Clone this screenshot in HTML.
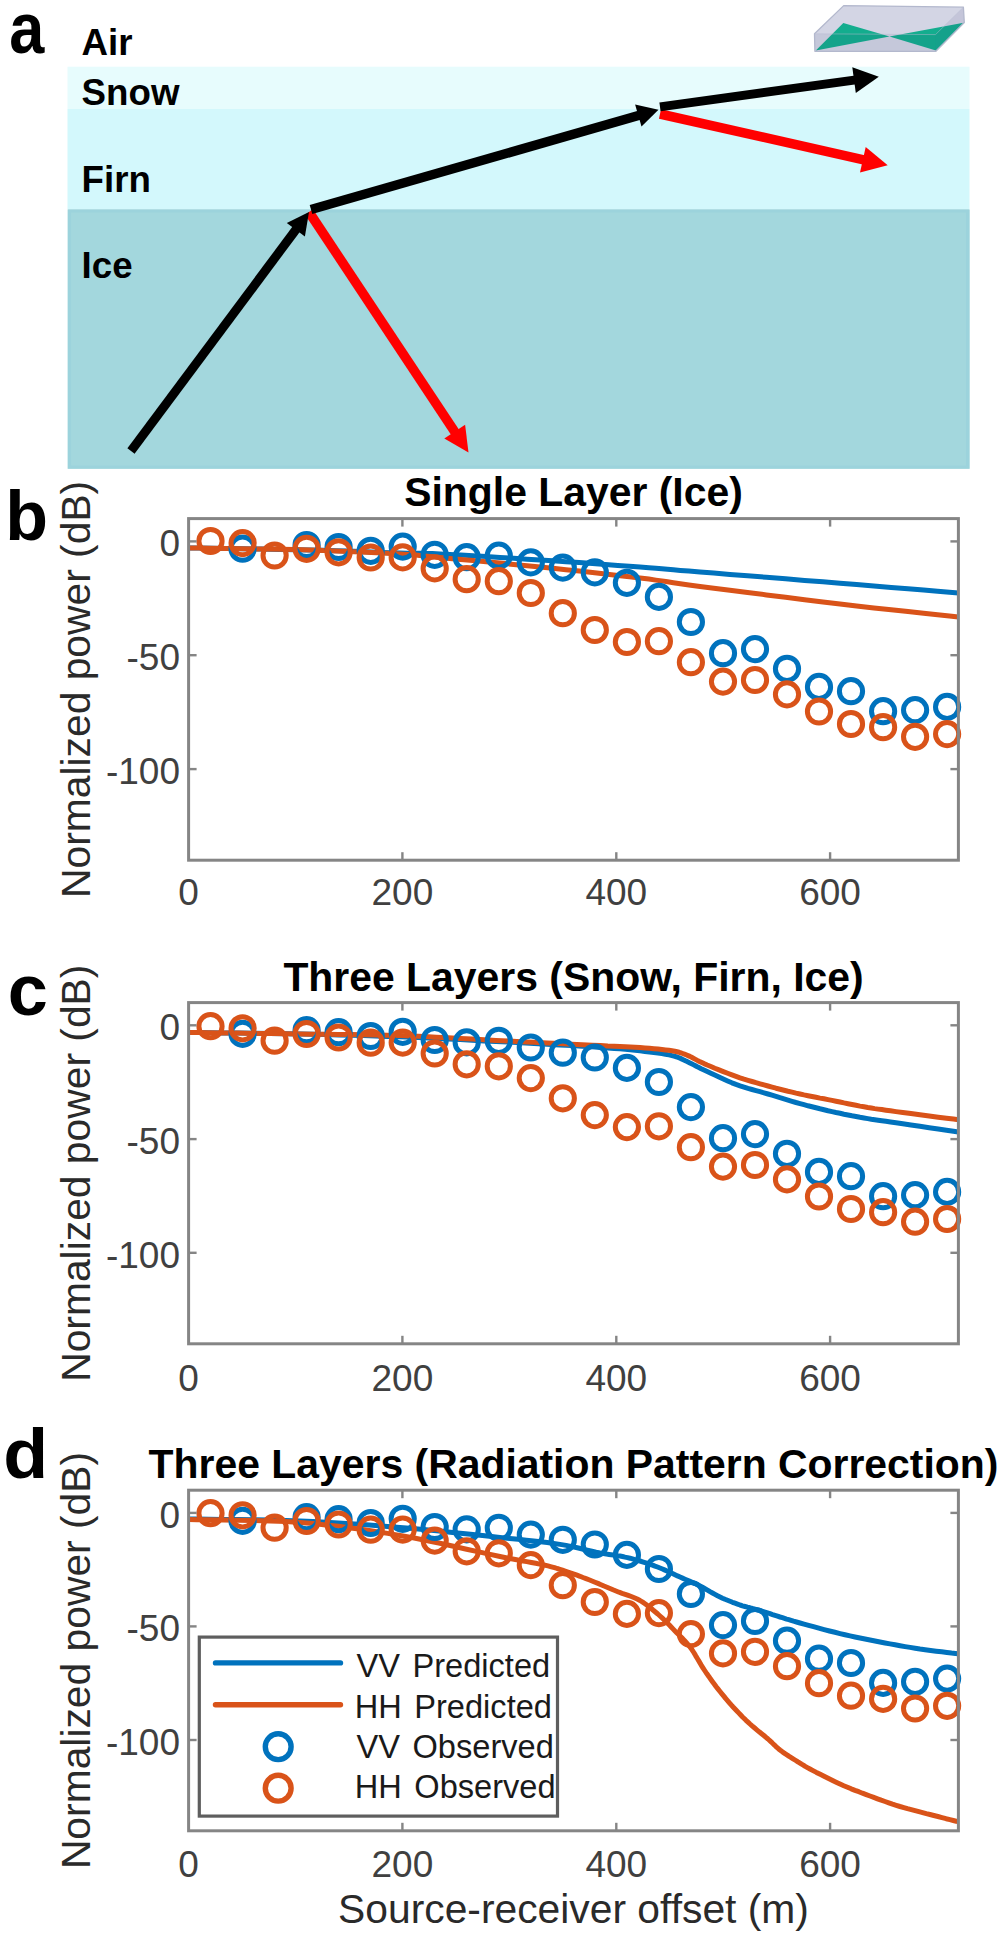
<!DOCTYPE html>
<html><head><meta charset="utf-8"><title>Figure</title>
<style>
html,body{margin:0;padding:0;background:#fff;overflow:hidden;width:1000px;height:1934px;}
svg{display:block;}
text{font-family:"Liberation Sans", Arial, Helvetica, sans-serif;}
.tk{font-size:37px;fill:#404040;}
.lbl{font-size:40.8px;fill:#2a2a2a;}
.ttl{font-size:40.9px;font-weight:bold;fill:#000;}
.plab{font-size:70px;font-weight:bold;fill:#000;}
.lay{font-size:36.7px;font-weight:bold;fill:#000;}
.leg{font-size:32.6px;fill:#1a1a1a;word-spacing:3.5px;}
</style></head><body>
<svg width="1000" height="1934" viewBox="0 0 1000 1934">
<rect width="1000" height="1934" fill="#fff"/>
<rect x="67.5" y="66.7" width="902" height="42.3" fill="#E7FCFD"/>
<rect x="67.5" y="109" width="902" height="100.5" fill="#D3F8FC"/>
<rect x="67.6" y="209.5" width="902.1" height="259.3" fill="#A3D7DD"/>
<rect x="69.6" y="211" width="898" height="256" fill="none" stroke="#9CD3DC" stroke-width="3"/>
<line x1="309.0" y1="212.0" x2="455.8" y2="433.3" stroke="#FF0000" stroke-width="9.5"/><polygon points="468.5,452.5 444.3,438.6 465.1,424.8" fill="#FF0000"/>
<line x1="660.0" y1="114.0" x2="864.8" y2="160.1" stroke="#FF0000" stroke-width="9.5"/><polygon points="887.7,165.3 860.0,172.4 865.7,147.0" fill="#FF0000"/>
<line x1="131.0" y1="451.0" x2="297.1" y2="228.0" stroke="#000" stroke-width="9.0"/><polygon points="309.0,212.0 304.9,236.4 286.8,222.9" fill="#000"/>
<line x1="311.0" y1="209.5" x2="640.2" y2="115.0" stroke="#000" stroke-width="9.5"/><polygon points="658.5,109.8 641.5,126.6 635.1,104.5" fill="#000"/>
<line x1="660.0" y1="106.8" x2="856.0" y2="79.9" stroke="#000" stroke-width="8.8"/><polygon points="878.8,76.8 855.8,93.1 852.3,67.3" fill="#000"/>
<text x="81.6" y="54.8" class="lay">Air</text>
<text x="81.6" y="104.8" class="lay">Snow</text>
<text x="81.6" y="192.0" class="lay">Firn</text>
<text x="81.6" y="277.5" class="lay">Ice</text>
<text transform="translate(11.5 53) scale(0.9 1.04)" x="-2.5" y="0" class="plab">a</text>
<g>
<polygon points="814.5,33.8 843.7,5.6 963.4,7.2 964.3,22.5 935.9,51.3 814.9,51.3" fill="#D3D5E4"/>
<polygon points="843.3,23 815.8,50.4 889.5,36.5" fill="#13AD8E"/>
<polygon points="889.5,36.5 963.6,22.8 935.9,50.4" fill="#13AD8E"/>
<polygon points="814.5,33.8 935.5,34.6 935.9,51.3 814.9,51.3" fill="#2A2F6A" fill-opacity="0.08"/>
<polygon points="935.5,34.6 963.4,7.2 964.3,22.5 935.9,51.3" fill="#2A2F6A" fill-opacity="0.09"/>
<polygon points="814.5,33.8 843.7,5.6 963.4,7.2 964.3,22.5 935.9,51.3 814.9,51.3" fill="none" stroke="#B3B8CD" stroke-width="1.3" stroke-linejoin="round"/>
<polyline points="814.5,33.8 935.5,34.6 963.4,7.2" fill="none" stroke="#B8BCD0" stroke-width="0.8" stroke-opacity="0.6"/>
</g>
<polyline points="188.6,548.0 198.2,548.1 211.2,548.3 226.6,548.6 243.7,548.8 261.4,549.1 279.0,549.4 295.5,549.7 310.0,550.0 323.1,550.3 335.9,550.7 348.2,551.1 360.1,551.6 371.3,552.0 381.8,552.4 391.4,552.7 400.0,553.0 407.0,553.2 412.1,553.3 416.0,553.3 419.4,553.3 422.8,553.3 427.0,553.4 432.5,553.6 440.0,554.0 449.6,554.5 460.8,555.1 473.1,555.8 486.2,556.6 499.9,557.5 513.6,558.3 527.1,559.2 540.0,560.0 552.8,560.8 565.9,561.7 579.3,562.6 592.5,563.6 605.4,564.5 617.8,565.4 629.4,566.2 640.0,567.0 648.9,567.7 655.9,568.2 661.9,568.7 667.5,569.2 673.4,569.8 680.3,570.4 688.9,571.1 700.0,572.0 713.8,573.1 729.9,574.4 747.6,575.8 766.4,577.3 785.6,578.8 804.6,580.4 823.0,581.8 840.0,583.2 856.6,584.6 873.9,586.0 891.2,587.4 908.0,588.8 923.6,590.1 937.6,591.3 949.4,592.3 958.4,593.0" fill="none" stroke="#0072BD" stroke-width="5.0" stroke-linejoin="round"/>
<polyline points="188.6,548.0 198.2,548.1 211.2,548.3 226.6,548.5 243.7,548.8 261.4,549.0 279.0,549.3 295.5,549.6 310.0,550.0 323.1,550.4 335.9,550.9 348.2,551.4 360.1,551.9 371.3,552.4 381.8,553.0 391.4,553.5 400.0,554.0 407.0,554.4 412.1,554.8 416.0,555.1 419.4,555.4 422.8,555.8 427.0,556.2 432.5,556.8 440.0,557.5 449.6,558.4 460.8,559.4 473.1,560.6 486.2,561.8 499.9,563.1 513.6,564.4 527.1,565.7 540.0,567.0 552.8,568.3 565.9,569.7 579.3,571.1 592.5,572.6 605.4,574.0 617.8,575.4 629.4,576.7 640.0,578.0 648.9,579.1 655.9,580.1 661.9,580.9 667.5,581.8 673.4,582.7 680.3,583.7 688.9,584.9 700.0,586.4 713.8,588.2 729.9,590.3 747.6,592.5 766.4,594.9 785.6,597.3 804.6,599.7 823.0,602.0 840.0,604.0 856.6,605.9 873.9,607.9 891.2,609.8 908.0,611.6 923.6,613.3 937.6,614.8 949.4,616.0 958.4,617.0" fill="none" stroke="#D95319" stroke-width="5.0" stroke-linejoin="round"/>
<circle cx="242.6" cy="548.7" r="11.6" fill="none" stroke="#0072BD" stroke-width="5.0"/>
<circle cx="306.6" cy="545.0" r="11.6" fill="none" stroke="#0072BD" stroke-width="5.0"/>
<circle cx="338.6" cy="547.0" r="11.6" fill="none" stroke="#0072BD" stroke-width="5.0"/>
<circle cx="370.7" cy="550.8" r="11.6" fill="none" stroke="#0072BD" stroke-width="5.0"/>
<circle cx="402.7" cy="546.6" r="11.6" fill="none" stroke="#0072BD" stroke-width="5.0"/>
<circle cx="434.7" cy="554.8" r="11.6" fill="none" stroke="#0072BD" stroke-width="5.0"/>
<circle cx="466.7" cy="557.2" r="11.6" fill="none" stroke="#0072BD" stroke-width="5.0"/>
<circle cx="498.8" cy="555.6" r="11.6" fill="none" stroke="#0072BD" stroke-width="5.0"/>
<circle cx="530.8" cy="562.4" r="11.6" fill="none" stroke="#0072BD" stroke-width="5.0"/>
<circle cx="562.8" cy="567.6" r="11.6" fill="none" stroke="#0072BD" stroke-width="5.0"/>
<circle cx="594.8" cy="572.4" r="11.6" fill="none" stroke="#0072BD" stroke-width="5.0"/>
<circle cx="626.9" cy="582.8" r="11.6" fill="none" stroke="#0072BD" stroke-width="5.0"/>
<circle cx="658.9" cy="596.9" r="11.6" fill="none" stroke="#0072BD" stroke-width="5.0"/>
<circle cx="690.9" cy="622.0" r="11.6" fill="none" stroke="#0072BD" stroke-width="5.0"/>
<circle cx="723.0" cy="653.2" r="11.6" fill="none" stroke="#0072BD" stroke-width="5.0"/>
<circle cx="755.0" cy="649.1" r="11.6" fill="none" stroke="#0072BD" stroke-width="5.0"/>
<circle cx="787.0" cy="668.8" r="11.6" fill="none" stroke="#0072BD" stroke-width="5.0"/>
<circle cx="819.0" cy="686.9" r="11.6" fill="none" stroke="#0072BD" stroke-width="5.0"/>
<circle cx="851.0" cy="691.2" r="11.6" fill="none" stroke="#0072BD" stroke-width="5.0"/>
<circle cx="883.1" cy="711.2" r="11.6" fill="none" stroke="#0072BD" stroke-width="5.0"/>
<circle cx="915.1" cy="710.1" r="11.6" fill="none" stroke="#0072BD" stroke-width="5.0"/>
<circle cx="947.1" cy="706.9" r="11.6" fill="none" stroke="#0072BD" stroke-width="5.0"/>
<circle cx="210.5" cy="541.0" r="11.6" fill="none" stroke="#D95319" stroke-width="5.0"/>
<circle cx="242.6" cy="543.1" r="11.6" fill="none" stroke="#D95319" stroke-width="5.0"/>
<circle cx="274.6" cy="555.5" r="11.6" fill="none" stroke="#D95319" stroke-width="5.0"/>
<circle cx="306.6" cy="548.8" r="11.6" fill="none" stroke="#D95319" stroke-width="5.0"/>
<circle cx="338.6" cy="552.3" r="11.6" fill="none" stroke="#D95319" stroke-width="5.0"/>
<circle cx="370.7" cy="557.5" r="11.6" fill="none" stroke="#D95319" stroke-width="5.0"/>
<circle cx="402.7" cy="557.4" r="11.6" fill="none" stroke="#D95319" stroke-width="5.0"/>
<circle cx="434.7" cy="568.4" r="11.6" fill="none" stroke="#D95319" stroke-width="5.0"/>
<circle cx="466.7" cy="579.2" r="11.6" fill="none" stroke="#D95319" stroke-width="5.0"/>
<circle cx="498.8" cy="581.2" r="11.6" fill="none" stroke="#D95319" stroke-width="5.0"/>
<circle cx="530.8" cy="593.0" r="11.6" fill="none" stroke="#D95319" stroke-width="5.0"/>
<circle cx="562.8" cy="613.2" r="11.6" fill="none" stroke="#D95319" stroke-width="5.0"/>
<circle cx="594.8" cy="630.0" r="11.6" fill="none" stroke="#D95319" stroke-width="5.0"/>
<circle cx="626.9" cy="642.0" r="11.6" fill="none" stroke="#D95319" stroke-width="5.0"/>
<circle cx="658.9" cy="641.2" r="11.6" fill="none" stroke="#D95319" stroke-width="5.0"/>
<circle cx="690.9" cy="662.2" r="11.6" fill="none" stroke="#D95319" stroke-width="5.0"/>
<circle cx="723.0" cy="681.6" r="11.6" fill="none" stroke="#D95319" stroke-width="5.0"/>
<circle cx="755.0" cy="680.0" r="11.6" fill="none" stroke="#D95319" stroke-width="5.0"/>
<circle cx="787.0" cy="694.4" r="11.6" fill="none" stroke="#D95319" stroke-width="5.0"/>
<circle cx="819.0" cy="711.5" r="11.6" fill="none" stroke="#D95319" stroke-width="5.0"/>
<circle cx="851.0" cy="724.0" r="11.6" fill="none" stroke="#D95319" stroke-width="5.0"/>
<circle cx="883.1" cy="727.2" r="11.6" fill="none" stroke="#D95319" stroke-width="5.0"/>
<circle cx="915.1" cy="736.8" r="11.6" fill="none" stroke="#D95319" stroke-width="5.0"/>
<circle cx="947.1" cy="734.1" r="11.6" fill="none" stroke="#D95319" stroke-width="5.0"/>
<rect x="188.6" y="518.6" width="769.8" height="341.6" fill="none" stroke="#858585" stroke-width="3"/>
<line x1="402.4" y1="860.2" x2="402.4" y2="852.2" stroke="#858585" stroke-width="2.4"/>
<line x1="402.4" y1="518.6" x2="402.4" y2="526.6" stroke="#858585" stroke-width="2.4"/>
<line x1="616.3" y1="860.2" x2="616.3" y2="852.2" stroke="#858585" stroke-width="2.4"/>
<line x1="616.3" y1="518.6" x2="616.3" y2="526.6" stroke="#858585" stroke-width="2.4"/>
<line x1="830.1" y1="860.2" x2="830.1" y2="852.2" stroke="#858585" stroke-width="2.4"/>
<line x1="830.1" y1="518.6" x2="830.1" y2="526.6" stroke="#858585" stroke-width="2.4"/>
<line x1="188.6" y1="541.4" x2="196.6" y2="541.4" stroke="#858585" stroke-width="2.4"/>
<line x1="958.4" y1="541.4" x2="950.4" y2="541.4" stroke="#858585" stroke-width="2.4"/>
<line x1="188.6" y1="655.2" x2="196.6" y2="655.2" stroke="#858585" stroke-width="2.4"/>
<line x1="958.4" y1="655.2" x2="950.4" y2="655.2" stroke="#858585" stroke-width="2.4"/>
<line x1="188.6" y1="769.1" x2="196.6" y2="769.1" stroke="#858585" stroke-width="2.4"/>
<line x1="958.4" y1="769.1" x2="950.4" y2="769.1" stroke="#858585" stroke-width="2.4"/>
<text x="188.6" y="904.7" text-anchor="middle" class="tk">0</text>
<text x="402.4" y="904.7" text-anchor="middle" class="tk">200</text>
<text x="616.3" y="904.7" text-anchor="middle" class="tk">400</text>
<text x="830.1" y="904.7" text-anchor="middle" class="tk">600</text>
<text x="180" y="556.4" text-anchor="end" class="tk">0</text>
<text x="180" y="670.2" text-anchor="end" class="tk">-50</text>
<text x="180" y="784.1" text-anchor="end" class="tk">-100</text>
<text transform="translate(90 689.4) rotate(-90)" text-anchor="middle" class="lbl">Normalized power (dB)</text>
<text x="573.5" y="506.0" text-anchor="middle" class="ttl">Single Layer (Ice)</text>
<text transform="translate(5.2 539.5) scale(1.000 1.000)" class="plab">b</text>
<polyline points="188.6,1032.5 197.3,1032.6 208.9,1032.7 222.7,1032.9 238.0,1033.1 254.2,1033.3 270.3,1033.5 285.9,1033.7 300.0,1034.0 313.1,1034.3 325.9,1034.6 338.5,1034.9 351.0,1035.2 363.3,1035.6 375.5,1035.9 387.8,1036.4 400.0,1036.8 412.2,1037.3 424.3,1037.8 436.3,1038.4 448.2,1039.0 460.2,1039.6 472.1,1040.2 484.0,1040.9 496.0,1041.5 508.3,1042.1 521.1,1042.8 534.1,1043.5 547.0,1044.2 559.5,1044.9 571.4,1045.6 582.3,1046.2 592.0,1046.8 600.4,1047.4 607.8,1047.9 614.2,1048.4 620.0,1048.8 625.3,1049.3 630.2,1049.8 635.1,1050.3 640.0,1050.8 644.9,1051.4 649.5,1051.9 653.9,1052.5 658.0,1053.0 661.9,1053.6 665.5,1054.3 668.9,1054.9 672.0,1055.6 674.8,1056.3 677.1,1057.0 679.2,1057.8 681.0,1058.6 682.7,1059.4 684.4,1060.2 686.1,1061.1 688.0,1062.0 689.9,1062.9 691.6,1063.7 693.3,1064.6 695.0,1065.5 696.8,1066.5 698.9,1067.5 701.2,1068.7 704.0,1070.0 707.2,1071.5 710.9,1073.3 714.8,1075.1 719.0,1077.1 723.3,1079.1 727.6,1081.0 731.9,1082.8 736.0,1084.4 740.0,1085.8 744.0,1087.1 748.0,1088.4 752.0,1089.5 756.0,1090.6 760.0,1091.7 764.0,1092.8 768.0,1094.0 772.0,1095.2 776.0,1096.4 780.0,1097.7 784.0,1098.9 788.0,1100.1 792.0,1101.3 796.0,1102.5 800.0,1103.6 804.0,1104.7 808.0,1105.8 812.0,1106.8 816.0,1107.8 820.0,1108.8 824.0,1109.7 828.0,1110.7 832.0,1111.6 836.0,1112.5 840.0,1113.3 844.0,1114.2 848.0,1115.0 852.0,1115.8 856.0,1116.5 860.0,1117.3 864.0,1118.0 867.8,1118.6 871.3,1119.2 874.7,1119.7 878.1,1120.2 881.8,1120.7 885.9,1121.3 890.5,1122.0 896.0,1122.8 902.8,1123.8 910.9,1125.0 919.9,1126.3 929.2,1127.7 938.2,1129.0 946.5,1130.2 953.4,1131.3 958.4,1132.0" fill="none" stroke="#0072BD" stroke-width="5.0" stroke-linejoin="round"/>
<polyline points="188.6,1032.5 197.3,1032.6 208.9,1032.8 222.7,1032.9 238.0,1033.1 254.2,1033.4 270.3,1033.6 285.9,1033.8 300.0,1034.0 313.1,1034.2 325.9,1034.3 338.5,1034.5 351.0,1034.6 363.3,1034.8 375.5,1035.0 387.8,1035.2 400.0,1035.6 412.2,1036.0 424.3,1036.6 436.3,1037.2 448.2,1037.8 460.2,1038.5 472.1,1039.1 484.0,1039.8 496.0,1040.4 508.3,1041.0 521.1,1041.7 534.1,1042.3 547.0,1043.0 559.5,1043.6 571.4,1044.2 582.3,1044.7 592.0,1045.2 600.4,1045.6 607.8,1046.0 614.2,1046.2 620.0,1046.5 625.3,1046.7 630.2,1047.0 635.1,1047.3 640.0,1047.6 644.9,1048.0 649.5,1048.3 653.9,1048.7 658.0,1049.0 661.9,1049.4 665.5,1049.9 668.9,1050.3 672.0,1050.8 674.8,1051.3 677.1,1051.8 679.2,1052.3 681.0,1052.9 682.7,1053.5 684.4,1054.1 686.1,1054.8 688.0,1055.6 689.9,1056.4 691.6,1057.3 693.3,1058.2 695.0,1059.1 696.8,1060.1 698.9,1061.2 701.2,1062.3 704.0,1063.6 707.2,1065.0 710.9,1066.5 714.8,1068.2 719.0,1069.9 723.3,1071.6 727.6,1073.3 731.9,1074.9 736.0,1076.4 740.0,1077.8 744.0,1079.1 748.0,1080.3 752.0,1081.5 756.0,1082.7 760.0,1083.8 764.0,1084.9 768.0,1086.0 772.0,1087.1 776.0,1088.2 780.0,1089.2 784.0,1090.2 788.0,1091.2 792.0,1092.1 796.0,1093.1 800.0,1094.0 804.0,1094.9 808.0,1095.7 812.0,1096.5 816.0,1097.3 820.0,1098.1 824.0,1098.8 828.0,1099.6 832.0,1100.4 836.0,1101.2 840.0,1102.0 844.0,1102.9 848.0,1103.7 852.0,1104.5 856.0,1105.3 860.0,1106.1 864.0,1106.8 867.8,1107.5 871.3,1108.0 874.7,1108.6 878.1,1109.1 881.8,1109.6 885.9,1110.2 890.5,1110.8 896.0,1111.6 902.8,1112.5 910.9,1113.6 919.9,1114.8 929.2,1116.0 938.2,1117.2 946.5,1118.2 953.4,1119.1 958.4,1119.8" fill="none" stroke="#D95319" stroke-width="5.0" stroke-linejoin="round"/>
<circle cx="242.6" cy="1033.9" r="11.6" fill="none" stroke="#0072BD" stroke-width="5.0"/>
<circle cx="306.6" cy="1030.2" r="11.6" fill="none" stroke="#0072BD" stroke-width="5.0"/>
<circle cx="338.6" cy="1032.2" r="11.6" fill="none" stroke="#0072BD" stroke-width="5.0"/>
<circle cx="370.7" cy="1036.0" r="11.6" fill="none" stroke="#0072BD" stroke-width="5.0"/>
<circle cx="402.7" cy="1031.8" r="11.6" fill="none" stroke="#0072BD" stroke-width="5.0"/>
<circle cx="434.7" cy="1040.0" r="11.6" fill="none" stroke="#0072BD" stroke-width="5.0"/>
<circle cx="466.7" cy="1042.4" r="11.6" fill="none" stroke="#0072BD" stroke-width="5.0"/>
<circle cx="498.8" cy="1040.8" r="11.6" fill="none" stroke="#0072BD" stroke-width="5.0"/>
<circle cx="530.8" cy="1047.5" r="11.6" fill="none" stroke="#0072BD" stroke-width="5.0"/>
<circle cx="562.8" cy="1052.7" r="11.6" fill="none" stroke="#0072BD" stroke-width="5.0"/>
<circle cx="594.8" cy="1057.5" r="11.6" fill="none" stroke="#0072BD" stroke-width="5.0"/>
<circle cx="626.9" cy="1067.9" r="11.6" fill="none" stroke="#0072BD" stroke-width="5.0"/>
<circle cx="658.9" cy="1082.0" r="11.6" fill="none" stroke="#0072BD" stroke-width="5.0"/>
<circle cx="690.9" cy="1107.1" r="11.6" fill="none" stroke="#0072BD" stroke-width="5.0"/>
<circle cx="723.0" cy="1138.2" r="11.6" fill="none" stroke="#0072BD" stroke-width="5.0"/>
<circle cx="755.0" cy="1134.1" r="11.6" fill="none" stroke="#0072BD" stroke-width="5.0"/>
<circle cx="787.0" cy="1153.8" r="11.6" fill="none" stroke="#0072BD" stroke-width="5.0"/>
<circle cx="819.0" cy="1171.9" r="11.6" fill="none" stroke="#0072BD" stroke-width="5.0"/>
<circle cx="851.0" cy="1176.2" r="11.6" fill="none" stroke="#0072BD" stroke-width="5.0"/>
<circle cx="883.1" cy="1196.2" r="11.6" fill="none" stroke="#0072BD" stroke-width="5.0"/>
<circle cx="915.1" cy="1195.1" r="11.6" fill="none" stroke="#0072BD" stroke-width="5.0"/>
<circle cx="947.1" cy="1191.9" r="11.6" fill="none" stroke="#0072BD" stroke-width="5.0"/>
<circle cx="210.5" cy="1026.2" r="11.6" fill="none" stroke="#D95319" stroke-width="5.0"/>
<circle cx="242.6" cy="1028.3" r="11.6" fill="none" stroke="#D95319" stroke-width="5.0"/>
<circle cx="274.6" cy="1040.7" r="11.6" fill="none" stroke="#D95319" stroke-width="5.0"/>
<circle cx="306.6" cy="1034.0" r="11.6" fill="none" stroke="#D95319" stroke-width="5.0"/>
<circle cx="338.6" cy="1037.5" r="11.6" fill="none" stroke="#D95319" stroke-width="5.0"/>
<circle cx="370.7" cy="1042.7" r="11.6" fill="none" stroke="#D95319" stroke-width="5.0"/>
<circle cx="402.7" cy="1042.6" r="11.6" fill="none" stroke="#D95319" stroke-width="5.0"/>
<circle cx="434.7" cy="1053.5" r="11.6" fill="none" stroke="#D95319" stroke-width="5.0"/>
<circle cx="466.7" cy="1064.3" r="11.6" fill="none" stroke="#D95319" stroke-width="5.0"/>
<circle cx="498.8" cy="1066.3" r="11.6" fill="none" stroke="#D95319" stroke-width="5.0"/>
<circle cx="530.8" cy="1078.1" r="11.6" fill="none" stroke="#D95319" stroke-width="5.0"/>
<circle cx="562.8" cy="1098.3" r="11.6" fill="none" stroke="#D95319" stroke-width="5.0"/>
<circle cx="594.8" cy="1115.1" r="11.6" fill="none" stroke="#D95319" stroke-width="5.0"/>
<circle cx="626.9" cy="1127.1" r="11.6" fill="none" stroke="#D95319" stroke-width="5.0"/>
<circle cx="658.9" cy="1126.3" r="11.6" fill="none" stroke="#D95319" stroke-width="5.0"/>
<circle cx="690.9" cy="1147.2" r="11.6" fill="none" stroke="#D95319" stroke-width="5.0"/>
<circle cx="723.0" cy="1166.6" r="11.6" fill="none" stroke="#D95319" stroke-width="5.0"/>
<circle cx="755.0" cy="1165.0" r="11.6" fill="none" stroke="#D95319" stroke-width="5.0"/>
<circle cx="787.0" cy="1179.4" r="11.6" fill="none" stroke="#D95319" stroke-width="5.0"/>
<circle cx="819.0" cy="1196.5" r="11.6" fill="none" stroke="#D95319" stroke-width="5.0"/>
<circle cx="851.0" cy="1209.0" r="11.6" fill="none" stroke="#D95319" stroke-width="5.0"/>
<circle cx="883.1" cy="1212.2" r="11.6" fill="none" stroke="#D95319" stroke-width="5.0"/>
<circle cx="915.1" cy="1221.7" r="11.6" fill="none" stroke="#D95319" stroke-width="5.0"/>
<circle cx="947.1" cy="1219.0" r="11.6" fill="none" stroke="#D95319" stroke-width="5.0"/>
<rect x="188.6" y="1002.6" width="769.8" height="341.2" fill="none" stroke="#858585" stroke-width="3"/>
<line x1="402.4" y1="1343.8" x2="402.4" y2="1335.8" stroke="#858585" stroke-width="2.4"/>
<line x1="402.4" y1="1002.6" x2="402.4" y2="1010.6" stroke="#858585" stroke-width="2.4"/>
<line x1="616.3" y1="1343.8" x2="616.3" y2="1335.8" stroke="#858585" stroke-width="2.4"/>
<line x1="616.3" y1="1002.6" x2="616.3" y2="1010.6" stroke="#858585" stroke-width="2.4"/>
<line x1="830.1" y1="1343.8" x2="830.1" y2="1335.8" stroke="#858585" stroke-width="2.4"/>
<line x1="830.1" y1="1002.6" x2="830.1" y2="1010.6" stroke="#858585" stroke-width="2.4"/>
<line x1="188.6" y1="1025.3" x2="196.6" y2="1025.3" stroke="#858585" stroke-width="2.4"/>
<line x1="958.4" y1="1025.3" x2="950.4" y2="1025.3" stroke="#858585" stroke-width="2.4"/>
<line x1="188.6" y1="1139.1" x2="196.6" y2="1139.1" stroke="#858585" stroke-width="2.4"/>
<line x1="958.4" y1="1139.1" x2="950.4" y2="1139.1" stroke="#858585" stroke-width="2.4"/>
<line x1="188.6" y1="1252.8" x2="196.6" y2="1252.8" stroke="#858585" stroke-width="2.4"/>
<line x1="958.4" y1="1252.8" x2="950.4" y2="1252.8" stroke="#858585" stroke-width="2.4"/>
<text x="188.6" y="1390.8" text-anchor="middle" class="tk">0</text>
<text x="402.4" y="1390.8" text-anchor="middle" class="tk">200</text>
<text x="616.3" y="1390.8" text-anchor="middle" class="tk">400</text>
<text x="830.1" y="1390.8" text-anchor="middle" class="tk">600</text>
<text x="180" y="1040.3" text-anchor="end" class="tk">0</text>
<text x="180" y="1154.1" text-anchor="end" class="tk">-50</text>
<text x="180" y="1267.8" text-anchor="end" class="tk">-100</text>
<text transform="translate(90 1173.2) rotate(-90)" text-anchor="middle" class="lbl">Normalized power (dB)</text>
<text x="573.5" y="990.8" text-anchor="middle" class="ttl">Three Layers (Snow, Firn, Ice)</text>
<text transform="translate(7.8 1015.2) scale(1.030 1.020)" class="plab">c</text>
<polyline points="188.6,1519.0 197.3,1519.1 208.9,1519.3 222.7,1519.4 238.0,1519.6 254.2,1519.8 270.3,1520.1 285.9,1520.5 300.0,1521.0 313.0,1521.6 325.8,1522.2 338.3,1523.0 350.7,1523.8 363.0,1524.6 375.3,1525.5 387.6,1526.5 400.0,1527.5 412.8,1528.6 425.9,1529.8 439.3,1531.1 452.5,1532.4 465.4,1533.8 477.8,1535.0 489.4,1536.3 500.0,1537.4 509.6,1538.4 518.3,1539.3 526.3,1540.2 533.8,1541.0 540.7,1541.8 547.3,1542.6 553.7,1543.5 560.0,1544.4 566.1,1545.4 571.9,1546.6 577.3,1547.8 582.5,1549.0 587.3,1550.1 591.9,1551.2 596.1,1552.2 600.0,1553.0 603.5,1553.6 606.4,1554.1 609.0,1554.4 611.2,1554.7 613.4,1555.0 615.5,1555.2 617.6,1555.6 620.0,1556.0 622.5,1556.5 625.0,1557.1 627.5,1557.6 630.0,1558.2 632.5,1558.9 635.0,1559.6 637.5,1560.3 640.0,1561.0 642.5,1561.8 645.0,1562.6 647.5,1563.4 650.0,1564.2 652.5,1565.1 655.0,1566.1 657.5,1567.0 660.0,1568.0 662.5,1569.0 665.0,1570.1 667.5,1571.2 670.0,1572.4 672.5,1573.5 675.0,1574.7 677.5,1575.9 680.0,1577.0 682.5,1578.1 685.0,1579.2 687.5,1580.3 690.0,1581.4 692.5,1582.5 695.0,1583.6 697.5,1584.8 700.0,1586.0 702.5,1587.3 705.0,1588.7 707.5,1590.1 710.0,1591.6 712.5,1593.0 715.0,1594.4 717.5,1595.8 720.0,1597.0 722.5,1598.2 725.0,1599.3 727.5,1600.3 730.0,1601.3 732.5,1602.3 735.0,1603.2 737.5,1604.1 740.0,1605.0 742.5,1605.8 745.0,1606.5 747.5,1607.2 750.0,1607.8 752.5,1608.5 755.0,1609.1 757.5,1609.8 760.0,1610.5 762.5,1611.3 765.0,1612.1 767.5,1612.9 770.0,1613.7 772.5,1614.6 775.0,1615.4 777.5,1616.2 780.0,1617.0 782.4,1617.7 784.5,1618.4 786.6,1619.1 788.8,1619.7 791.0,1620.4 793.6,1621.2 796.5,1622.0 800.0,1623.0 804.0,1624.1 808.6,1625.4 813.5,1626.7 818.8,1628.2 824.1,1629.6 829.5,1631.0 834.9,1632.3 840.0,1633.6 845.0,1634.8 850.0,1635.9 855.0,1637.0 860.0,1638.0 865.0,1639.0 870.0,1640.0 875.0,1641.0 880.0,1642.0 885.0,1643.0 890.0,1643.9 895.1,1644.8 900.1,1645.7 905.1,1646.6 910.1,1647.4 915.1,1648.2 920.0,1649.0 925.1,1649.7 930.6,1650.5 936.2,1651.2 941.7,1651.8 946.9,1652.4 951.5,1653.0 955.4,1653.4 958.4,1653.8" fill="none" stroke="#0072BD" stroke-width="5.0" stroke-linejoin="round"/>
<polyline points="188.6,1519.5 197.3,1519.7 208.9,1519.8 222.7,1520.0 238.0,1520.2 254.2,1520.5 270.3,1521.0 285.9,1521.6 300.0,1522.5 313.0,1523.6 325.8,1524.9 338.3,1526.3 350.7,1527.9 363.0,1529.6 375.3,1531.5 387.6,1533.4 400.0,1535.5 412.9,1537.8 426.3,1540.5 440.0,1543.3 453.5,1546.3 466.6,1549.2 478.9,1551.9 490.2,1554.4 500.0,1556.5 508.3,1558.2 515.4,1559.5 521.5,1560.7 526.8,1561.6 531.4,1562.5 535.7,1563.3 539.8,1564.1 544.0,1565.0 548.0,1565.9 551.4,1566.8 554.5,1567.6 557.2,1568.5 559.9,1569.3 562.5,1570.1 565.1,1571.0 568.0,1572.0 571.0,1573.0 574.0,1574.1 577.0,1575.2 580.0,1576.3 583.0,1577.5 586.0,1578.6 589.0,1579.8 592.0,1581.0 595.0,1582.2 598.0,1583.4 601.0,1584.7 604.0,1586.0 607.0,1587.2 610.0,1588.5 613.0,1589.8 616.0,1591.0 619.0,1592.2 622.1,1593.3 625.2,1594.3 628.2,1595.4 631.3,1596.5 634.3,1597.7 637.2,1599.0 640.0,1600.5 642.7,1602.2 645.4,1604.0 648.0,1605.9 650.6,1607.9 653.0,1610.0 655.4,1612.0 657.8,1614.0 660.0,1616.0 662.1,1617.9 664.1,1619.8 666.0,1621.6 667.8,1623.5 669.6,1625.3 671.4,1627.2 673.2,1629.1 675.0,1631.0 676.9,1632.9 678.8,1634.7 680.6,1636.6 682.5,1638.4 684.4,1640.4 686.2,1642.4 688.1,1644.6 690.0,1647.0 691.9,1649.6 693.8,1652.5 695.6,1655.6 697.5,1658.7 699.4,1661.9 701.2,1665.1 703.1,1668.1 705.0,1671.0 706.9,1673.8 708.8,1676.4 710.6,1679.1 712.5,1681.7 714.4,1684.2 716.2,1686.7 718.1,1689.1 720.0,1691.5 721.9,1693.8 723.8,1696.1 725.6,1698.4 727.5,1700.6 729.4,1702.8 731.2,1704.9 733.1,1707.0 735.0,1709.0 736.9,1711.0 738.7,1712.9 740.5,1714.8 742.3,1716.7 744.2,1718.5 746.0,1720.3 748.0,1722.1 750.0,1724.0 752.1,1725.9 754.4,1727.8 756.8,1729.8 759.2,1731.8 761.6,1733.7 763.9,1735.5 766.0,1737.3 768.0,1739.0 769.8,1740.6 771.4,1742.1 772.8,1743.5 774.2,1744.8 775.5,1746.1 776.9,1747.4 778.4,1748.7 780.0,1750.0 781.7,1751.3 783.5,1752.6 785.4,1753.9 787.3,1755.1 789.2,1756.4 791.2,1757.6 793.1,1758.8 795.0,1760.0 796.8,1761.1 798.4,1762.2 800.0,1763.2 801.6,1764.2 803.3,1765.2 805.2,1766.4 807.4,1767.6 810.0,1769.0 813.0,1770.6 816.4,1772.4 820.2,1774.3 824.1,1776.3 828.1,1778.3 832.1,1780.3 836.1,1782.2 840.0,1784.0 843.8,1785.7 847.5,1787.2 851.2,1788.8 855.0,1790.3 858.8,1791.7 862.5,1793.2 866.2,1794.6 870.0,1796.0 873.8,1797.4 877.5,1798.8 881.2,1800.2 885.0,1801.5 888.8,1802.8 892.5,1804.1 896.2,1805.3 900.0,1806.5 903.8,1807.6 907.5,1808.7 911.3,1809.7 915.1,1810.7 918.9,1811.7 922.6,1812.6 926.3,1813.6 930.0,1814.5 933.8,1815.5 937.9,1816.5 942.0,1817.6 946.1,1818.7 949.9,1819.6 953.3,1820.5 956.2,1821.2 958.4,1821.8" fill="none" stroke="#D95319" stroke-width="5.0" stroke-linejoin="round"/>
<circle cx="242.6" cy="1520.9" r="11.6" fill="none" stroke="#0072BD" stroke-width="5.0"/>
<circle cx="306.6" cy="1517.2" r="11.6" fill="none" stroke="#0072BD" stroke-width="5.0"/>
<circle cx="338.6" cy="1519.2" r="11.6" fill="none" stroke="#0072BD" stroke-width="5.0"/>
<circle cx="370.7" cy="1523.0" r="11.6" fill="none" stroke="#0072BD" stroke-width="5.0"/>
<circle cx="402.7" cy="1518.8" r="11.6" fill="none" stroke="#0072BD" stroke-width="5.0"/>
<circle cx="434.7" cy="1527.0" r="11.6" fill="none" stroke="#0072BD" stroke-width="5.0"/>
<circle cx="466.7" cy="1529.4" r="11.6" fill="none" stroke="#0072BD" stroke-width="5.0"/>
<circle cx="498.8" cy="1527.8" r="11.6" fill="none" stroke="#0072BD" stroke-width="5.0"/>
<circle cx="530.8" cy="1534.6" r="11.6" fill="none" stroke="#0072BD" stroke-width="5.0"/>
<circle cx="562.8" cy="1539.8" r="11.6" fill="none" stroke="#0072BD" stroke-width="5.0"/>
<circle cx="594.8" cy="1544.5" r="11.6" fill="none" stroke="#0072BD" stroke-width="5.0"/>
<circle cx="626.9" cy="1554.9" r="11.6" fill="none" stroke="#0072BD" stroke-width="5.0"/>
<circle cx="658.9" cy="1569.0" r="11.6" fill="none" stroke="#0072BD" stroke-width="5.0"/>
<circle cx="690.9" cy="1594.0" r="11.6" fill="none" stroke="#0072BD" stroke-width="5.0"/>
<circle cx="723.0" cy="1625.1" r="11.6" fill="none" stroke="#0072BD" stroke-width="5.0"/>
<circle cx="755.0" cy="1621.0" r="11.6" fill="none" stroke="#0072BD" stroke-width="5.0"/>
<circle cx="787.0" cy="1640.7" r="11.6" fill="none" stroke="#0072BD" stroke-width="5.0"/>
<circle cx="819.0" cy="1658.7" r="11.6" fill="none" stroke="#0072BD" stroke-width="5.0"/>
<circle cx="851.0" cy="1663.0" r="11.6" fill="none" stroke="#0072BD" stroke-width="5.0"/>
<circle cx="883.1" cy="1682.9" r="11.6" fill="none" stroke="#0072BD" stroke-width="5.0"/>
<circle cx="915.1" cy="1681.8" r="11.6" fill="none" stroke="#0072BD" stroke-width="5.0"/>
<circle cx="947.1" cy="1678.6" r="11.6" fill="none" stroke="#0072BD" stroke-width="5.0"/>
<circle cx="210.5" cy="1513.2" r="11.6" fill="none" stroke="#D95319" stroke-width="5.0"/>
<circle cx="242.6" cy="1515.3" r="11.6" fill="none" stroke="#D95319" stroke-width="5.0"/>
<circle cx="274.6" cy="1527.7" r="11.6" fill="none" stroke="#D95319" stroke-width="5.0"/>
<circle cx="306.6" cy="1521.0" r="11.6" fill="none" stroke="#D95319" stroke-width="5.0"/>
<circle cx="338.6" cy="1524.5" r="11.6" fill="none" stroke="#D95319" stroke-width="5.0"/>
<circle cx="370.7" cy="1529.7" r="11.6" fill="none" stroke="#D95319" stroke-width="5.0"/>
<circle cx="402.7" cy="1529.6" r="11.6" fill="none" stroke="#D95319" stroke-width="5.0"/>
<circle cx="434.7" cy="1540.6" r="11.6" fill="none" stroke="#D95319" stroke-width="5.0"/>
<circle cx="466.7" cy="1551.3" r="11.6" fill="none" stroke="#D95319" stroke-width="5.0"/>
<circle cx="498.8" cy="1553.3" r="11.6" fill="none" stroke="#D95319" stroke-width="5.0"/>
<circle cx="530.8" cy="1565.1" r="11.6" fill="none" stroke="#D95319" stroke-width="5.0"/>
<circle cx="562.8" cy="1585.2" r="11.6" fill="none" stroke="#D95319" stroke-width="5.0"/>
<circle cx="594.8" cy="1602.0" r="11.6" fill="none" stroke="#D95319" stroke-width="5.0"/>
<circle cx="626.9" cy="1613.9" r="11.6" fill="none" stroke="#D95319" stroke-width="5.0"/>
<circle cx="658.9" cy="1613.1" r="11.6" fill="none" stroke="#D95319" stroke-width="5.0"/>
<circle cx="690.9" cy="1634.1" r="11.6" fill="none" stroke="#D95319" stroke-width="5.0"/>
<circle cx="723.0" cy="1653.4" r="11.6" fill="none" stroke="#D95319" stroke-width="5.0"/>
<circle cx="755.0" cy="1651.8" r="11.6" fill="none" stroke="#D95319" stroke-width="5.0"/>
<circle cx="787.0" cy="1666.2" r="11.6" fill="none" stroke="#D95319" stroke-width="5.0"/>
<circle cx="819.0" cy="1683.2" r="11.6" fill="none" stroke="#D95319" stroke-width="5.0"/>
<circle cx="851.0" cy="1695.7" r="11.6" fill="none" stroke="#D95319" stroke-width="5.0"/>
<circle cx="883.1" cy="1698.9" r="11.6" fill="none" stroke="#D95319" stroke-width="5.0"/>
<circle cx="915.1" cy="1708.5" r="11.6" fill="none" stroke="#D95319" stroke-width="5.0"/>
<circle cx="947.1" cy="1705.8" r="11.6" fill="none" stroke="#D95319" stroke-width="5.0"/>
<rect x="188.6" y="1490.2" width="769.8" height="340.6" fill="none" stroke="#858585" stroke-width="3"/>
<line x1="402.4" y1="1830.8" x2="402.4" y2="1822.8" stroke="#858585" stroke-width="2.4"/>
<line x1="402.4" y1="1490.2" x2="402.4" y2="1498.2" stroke="#858585" stroke-width="2.4"/>
<line x1="616.3" y1="1830.8" x2="616.3" y2="1822.8" stroke="#858585" stroke-width="2.4"/>
<line x1="616.3" y1="1490.2" x2="616.3" y2="1498.2" stroke="#858585" stroke-width="2.4"/>
<line x1="830.1" y1="1830.8" x2="830.1" y2="1822.8" stroke="#858585" stroke-width="2.4"/>
<line x1="830.1" y1="1490.2" x2="830.1" y2="1498.2" stroke="#858585" stroke-width="2.4"/>
<line x1="188.6" y1="1512.9" x2="196.6" y2="1512.9" stroke="#858585" stroke-width="2.4"/>
<line x1="958.4" y1="1512.9" x2="950.4" y2="1512.9" stroke="#858585" stroke-width="2.4"/>
<line x1="188.6" y1="1626.4" x2="196.6" y2="1626.4" stroke="#858585" stroke-width="2.4"/>
<line x1="958.4" y1="1626.4" x2="950.4" y2="1626.4" stroke="#858585" stroke-width="2.4"/>
<line x1="188.6" y1="1740.0" x2="196.6" y2="1740.0" stroke="#858585" stroke-width="2.4"/>
<line x1="958.4" y1="1740.0" x2="950.4" y2="1740.0" stroke="#858585" stroke-width="2.4"/>
<text x="188.6" y="1877.3" text-anchor="middle" class="tk">0</text>
<text x="402.4" y="1877.3" text-anchor="middle" class="tk">200</text>
<text x="616.3" y="1877.3" text-anchor="middle" class="tk">400</text>
<text x="830.1" y="1877.3" text-anchor="middle" class="tk">600</text>
<text x="180" y="1527.9" text-anchor="end" class="tk">0</text>
<text x="180" y="1641.4" text-anchor="end" class="tk">-50</text>
<text x="180" y="1755.0" text-anchor="end" class="tk">-100</text>
<text transform="translate(90 1660.5) rotate(-90)" text-anchor="middle" class="lbl">Normalized power (dB)</text>
<text x="573.5" y="1478.0" text-anchor="middle" class="ttl">Three Layers (Radiation Pattern Correction)</text>
<text transform="translate(3.3 1478.3) scale(1.050 1.000)" class="plab">d</text>
<text x="573.5" y="1922.8" text-anchor="middle" class="lbl">Source-receiver offset (m)</text>
<rect x="199.3" y="1637.1" width="358.2" height="179.0" fill="#fff" stroke="#5e5e5e" stroke-width="3.2"/>
<line x1="215.5" y1="1662.9" x2="340.5" y2="1662.9" stroke="#0072BD" stroke-width="5.4" stroke-linecap="round"/>
<line x1="215.5" y1="1704.7" x2="340.5" y2="1704.7" stroke="#D95319" stroke-width="5.4" stroke-linecap="round"/>
<circle cx="278.2" cy="1746.7" r="12.9" fill="none" stroke="#0072BD" stroke-width="5.4"/>
<circle cx="278.2" cy="1788.2" r="12.9" fill="none" stroke="#D95319" stroke-width="5.4"/>
<text x="356.5" y="1677.0" class="leg">VV Predicted</text>
<text x="354.7" y="1717.5" class="leg">HH Predicted</text>
<text x="356.5" y="1757.6" class="leg">VV Observed</text>
<text x="354.7" y="1798.1" class="leg">HH Observed</text>
</svg>
</body></html>
